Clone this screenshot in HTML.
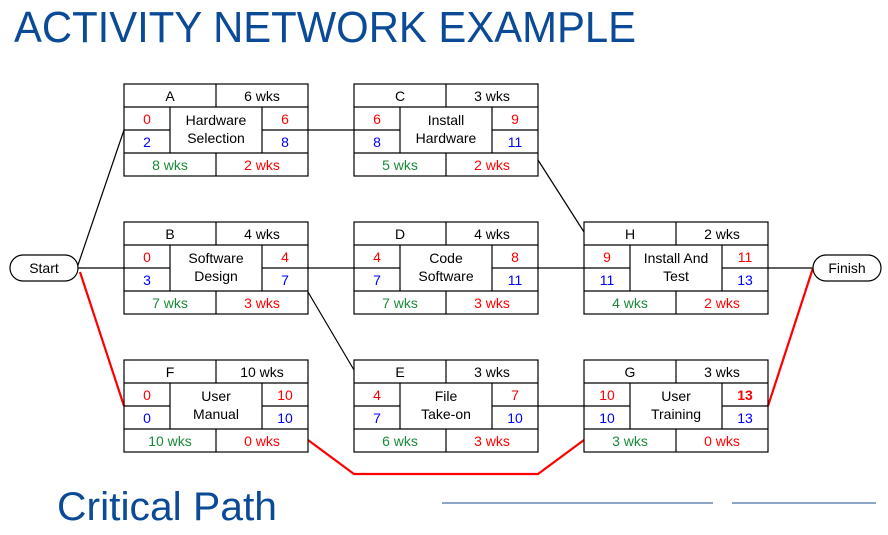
<!DOCTYPE html>
<html><head><meta charset="utf-8"><style>
html,body{margin:0;padding:0;background:#fff;width:888px;height:535px;overflow:hidden}
svg{display:block}
text{font-family:"Liberation Sans",sans-serif;font-size:14px;text-anchor:middle}
.r{fill:#f00}.b{fill:#00f}.g{fill:#1a8a3a}.k{fill:#000}
</style></head><body>
<svg width="888" height="535" viewBox="0 0 888 535">
<defs>
<g id="bx" fill="none" stroke="#000" stroke-width="1.2">
<rect x="0" y="0" width="184" height="92"/>
<path d="M0 23H184M0 69H184M92 0V23M92 69V92M46 23V69M138 23V69M0 46H46M138 46H184"/>
</g>
</defs>
<text x="14" y="42" style="font-size:44px;text-anchor:start;fill:#0a4a96" textLength="622" lengthAdjust="spacingAndGlyphs">ACTIVITY NETWORK EXAMPLE</text>
<text x="57" y="520" style="font-size:40px;text-anchor:start;fill:#0a4a96" textLength="220" lengthAdjust="spacingAndGlyphs">Critical Path</text>
<path d="M442 503H713M732 503H876" stroke="#4a6fa5" stroke-width="1.2"/>

<!-- connectors -->
<g stroke="#000" stroke-width="1.2" fill="none">
<path d="M78 265L124 130"/>
<path d="M78 268H124M308 268H354M538 268H584M768 268H813"/>
<path d="M308 130H354"/>
<path d="M538 160L584 232"/>
<path d="M308 292L354 370"/>
<path d="M538 406H584"/>
</g>
<g stroke="#f00" stroke-width="2.2" fill="none">
<path d="M80 272L124 406"/>
<path d="M308 440L354 474H538L584 440"/>
<path d="M768 406L813 268"/>
</g>
<rect x="10" y="255" width="68" height="26" rx="13" fill="#fff" stroke="#000" stroke-width="1.2"/>
<text x="44" y="273" class="k">Start</text>
<rect x="813" y="255" width="68" height="26" rx="13" fill="#fff" stroke="#000" stroke-width="1.2"/>
<text x="847" y="273" class="k">Finish</text>

<g transform="translate(124,84)"><use href="#bx"/>
<text x="46" y="17">A</text><text x="138" y="17">6 wks</text>
<text x="23" y="40" class="r">0</text><text x="23" y="63" class="b">2</text>
<text x="161" y="40" class="r">6</text><text x="161" y="63" class="b">8</text>
<text x="92" y="41">Hardware</text><text x="92" y="59">Selection</text>
<text x="46" y="86" class="g">8 wks</text><text x="138" y="86" class="r">2 wks</text></g>

<g transform="translate(354,84)"><use href="#bx"/>
<text x="46" y="17">C</text><text x="138" y="17">3 wks</text>
<text x="23" y="40" class="r">6</text><text x="23" y="63" class="b">8</text>
<text x="161" y="40" class="r">9</text><text x="161" y="63" class="b">11</text>
<text x="92" y="41">Install</text><text x="92" y="59">Hardware</text>
<text x="46" y="86" class="g">5 wks</text><text x="138" y="86" class="r">2 wks</text></g>

<g transform="translate(124,222)"><use href="#bx"/>
<text x="46" y="17">B</text><text x="138" y="17">4 wks</text>
<text x="23" y="40" class="r">0</text><text x="23" y="63" class="b">3</text>
<text x="161" y="40" class="r">4</text><text x="161" y="63" class="b">7</text>
<text x="92" y="41">Software</text><text x="92" y="59">Design</text>
<text x="46" y="86" class="g">7 wks</text><text x="138" y="86" class="r">3 wks</text></g>

<g transform="translate(354,222)"><use href="#bx"/>
<text x="46" y="17">D</text><text x="138" y="17">4 wks</text>
<text x="23" y="40" class="r">4</text><text x="23" y="63" class="b">7</text>
<text x="161" y="40" class="r">8</text><text x="161" y="63" class="b">11</text>
<text x="92" y="41">Code</text><text x="92" y="59">Software</text>
<text x="46" y="86" class="g">7 wks</text><text x="138" y="86" class="r">3 wks</text></g>

<g transform="translate(584,222)"><use href="#bx"/>
<text x="46" y="17">H</text><text x="138" y="17">2 wks</text>
<text x="23" y="40" class="r">9</text><text x="23" y="63" class="b">11</text>
<text x="161" y="40" class="r">11</text><text x="161" y="63" class="b">13</text>
<text x="92" y="41">Install And</text><text x="92" y="59">Test</text>
<text x="46" y="86" class="g">4 wks</text><text x="138" y="86" class="r">2 wks</text></g>

<g transform="translate(124,360)"><use href="#bx"/>
<text x="46" y="17">F</text><text x="138" y="17">10 wks</text>
<text x="23" y="40" class="r">0</text><text x="23" y="63" class="b">0</text>
<text x="161" y="40" class="r">10</text><text x="161" y="63" class="b">10</text>
<text x="92" y="41">User</text><text x="92" y="59">Manual</text>
<text x="46" y="86" class="g">10 wks</text><text x="138" y="86" class="r">0 wks</text></g>

<g transform="translate(354,360)"><use href="#bx"/>
<text x="46" y="17">E</text><text x="138" y="17">3 wks</text>
<text x="23" y="40" class="r">4</text><text x="23" y="63" class="b">7</text>
<text x="161" y="40" class="r">7</text><text x="161" y="63" class="b">10</text>
<text x="92" y="41">File</text><text x="92" y="59">Take-on</text>
<text x="46" y="86" class="g">6 wks</text><text x="138" y="86" class="r">3 wks</text></g>

<g transform="translate(584,360)"><use href="#bx"/>
<text x="46" y="17">G</text><text x="138" y="17">3 wks</text>
<text x="23" y="40" class="r">10</text><text x="23" y="63" class="b">10</text>
<text x="161" y="40" class="r" style="font-weight:bold">13</text><text x="161" y="63" class="b">13</text>
<text x="92" y="41">User</text><text x="92" y="59">Training</text>
<text x="46" y="86" class="g">3 wks</text><text x="138" y="86" class="r">0 wks</text></g>
</svg>
</body></html>
